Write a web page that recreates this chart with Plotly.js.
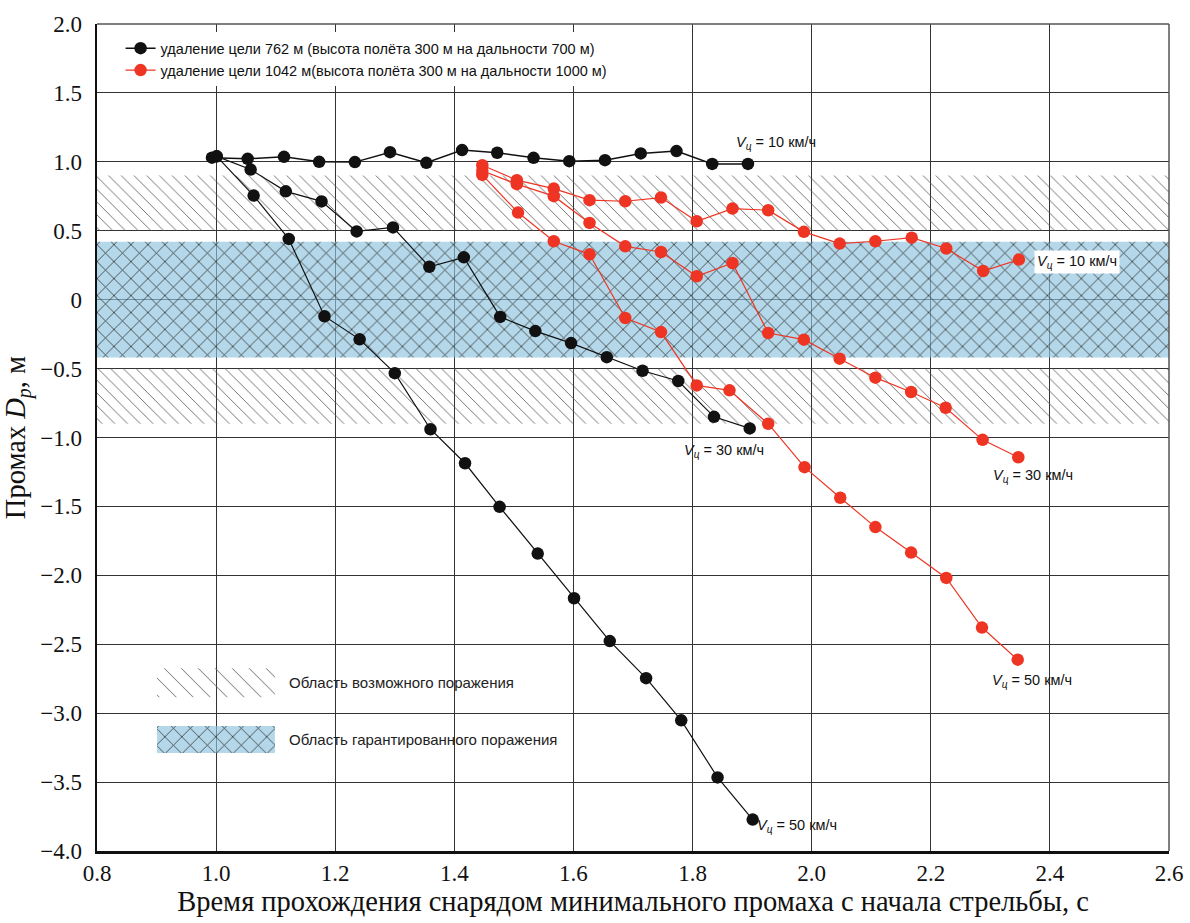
<!DOCTYPE html>
<html>
<head>
<meta charset="utf-8">
<script src="https://cdn.plot.ly/plotly-3.0.1.min.js"></script>
<style>html,body{margin:0;padding:0;background:#fff;}#chart{width:1190px;height:923px;}</style>
</head>
<body>
<div id="chart"></div>
<script>
// ---- data ----
const seriesNames = [
  'удаление цели 762 м (высота полёта 300 м на дальности 700 м)',
  'удаление цели 1042 м(высота полёта 300 м на дальности 1000 м)'
];
// black: target distance 762 m
const b10x = [0.993, 1.053, 1.114, 1.173, 1.233, 1.292, 1.353, 1.413, 1.472, 1.533, 1.593, 1.653, 1.713, 1.773, 1.833, 1.893];
const b10y = [1.03, 1.022, 1.036, 1.0, 0.998, 1.07, 0.993, 1.085, 1.066, 1.029, 1.005, 1.012, 1.061, 1.078, 0.985, 0.985];
const b30x = [1.001, 1.058, 1.117, 1.177, 1.236, 1.297, 1.358, 1.416, 1.477, 1.536, 1.596, 1.656, 1.716, 1.776, 1.836, 1.896];
const b30y = [1.04, 0.944, 0.786, 0.713, 0.495, 0.524, 0.239, 0.307, -0.125, -0.228, -0.315, -0.417, -0.516, -0.59, -0.85, -0.934];
const b50x = [1.001, 1.063, 1.122, 1.182, 1.241, 1.300, 1.360, 1.418, 1.476, 1.540, 1.601, 1.661, 1.722, 1.781, 1.842, 1.901];
const b50y = [1.04, 0.755, 0.441, -0.12, -0.288, -0.533, -0.94, -1.187, -1.503, -1.842, -2.166, -2.477, -2.746, -3.052, -3.466, -3.772];
// red: target distance 1042 m
const r10x = [1.447, 1.505, 1.567, 1.627, 1.687, 1.747, 1.807, 1.867, 1.927, 1.987, 2.047, 2.107, 2.168, 2.226, 2.288, 2.348];
const r10y = [0.975, 0.867, 0.806, 0.722, 0.714, 0.741, 0.569, 0.661, 0.649, 0.492, 0.407, 0.424, 0.450, 0.371, 0.208, 0.291];
const r30x = [1.447, 1.505, 1.567, 1.627, 1.687, 1.747, 1.807, 1.867, 1.927, 1.987, 2.047, 2.107, 2.167, 2.225, 2.287, 2.347];
const r30y = [0.935, 0.838, 0.751, 0.557, 0.387, 0.346, 0.170, 0.266, -0.242, -0.290, -0.428, -0.566, -0.670, -0.784, -1.017, -1.143];
const r50x = [1.447, 1.507, 1.567, 1.627, 1.687, 1.747, 1.807, 1.862, 1.927, 1.988, 2.048, 2.107, 2.167, 2.226, 2.286, 2.346];
const r50y = [0.905, 0.632, 0.424, 0.329, -0.133, -0.235, -0.622, -0.658, -0.900, -1.215, -1.437, -1.650, -1.835, -2.019, -2.379, -2.612];

// zones
const zoneNames = ['Область возможного поражения', 'Область гарантированного поражения'];
const possibleBands = [[0.5, 0.9], [-0.9, -0.5]];
const guaranteedBand = [-0.42, 0.42];
const zoneXRange = [0.8, 2.6];

// axes ticks
const xRange = [0.8, 2.6];
const xTickVals = [0.8, 1.0, 1.2, 1.4, 1.6, 1.8, 2.0, 2.2, 2.4, 2.6];
const xTickText = ['0.8', '1.0', '1.2', '1.4', '1.6', '1.8', '2.0', '2.2', '2.4', '2.6'];
const yTickVals = [2.0, 1.5, 1.0, 0.5, 0, -0.5, -1.0, -1.5, -2.0, -2.5, -3.0, -3.5, -4.0];
const yTickText = ['2.0', '1.5', '1.0', '0.5', '0', '\u22120.5', '\u22121.0', '\u22121.5', '\u22122.0', '\u22122.5', '\u22123.0', '\u22123.5', '\u22124.0'];

// speed labels
const speedLabels = [
  {x: 1.94, y: 1.135, v: 10, bg: false},
  {x: 2.445, y: 0.27, v: 10, bg: true},
  {x: 1.852, y: -1.10, v: 30, bg: false},
  {x: 2.372, y: -1.28, v: 30, bg: false},
  {x: 2.37, y: -2.77, v: 50, bg: false},
  {x: 1.975, y: -3.82, v: 50, bg: false}
];

// ---- styles ----
const BLACK = '#111111';
const RED = '#ee3524';
const SANS = 'Liberation Sans, Arial, sans-serif';
const SERIF = 'Liberation Serif, Times New Roman, serif';
const hatchPattern = {shape: '\\', size: 9, solidity: 0.09, fgcolor: '#555555', bgcolor: 'rgba(255,255,255,0)', fillmode: 'replace'};
const swatchHatch = {shape: '\\', size: 12, solidity: 0.08, fgcolor: '#666666', bgcolor: 'rgba(255,255,255,0)', fillmode: 'replace'};
const crossPattern = {shape: 'x', size: 12, solidity: 0.12, fgcolor: '#2a2a2a', bgcolor: 'rgba(140,196,222,0.65)', fillmode: 'replace'};

function rectTrace(x0, x1, y0, y1, pattern, xa, ya) {
  return {
    x: [x0, x1, x1, x0, x0], y: [y0, y0, y1, y1, y0],
    type: 'scatter', mode: 'lines', fill: 'toself',
    line: {width: 0, color: 'rgba(0,0,0,0)'},
    fillcolor: 'rgba(0,0,0,0)',
    fillpattern: pattern,
    hoverinfo: 'skip', showlegend: false,
    xaxis: xa || 'x', yaxis: ya || 'y'
  };
}

const traces = [];
possibleBands.forEach(b => traces.push(rectTrace(zoneXRange[0], zoneXRange[1], b[0], b[1], hatchPattern)));
traces.push(rectTrace(zoneXRange[0], zoneXRange[1], guaranteedBand[0], guaranteedBand[1], crossPattern));

// zone legend swatches (overlay axis in fraction-of-plot units)
traces.push(rectTrace(0.056, 0.166, 0.186, 0.221, swatchHatch, 'x2', 'y2'));
traces.push(rectTrace(0.056, 0.166, 0.1185, 0.151, crossPattern, 'x2', 'y2'));

function lineTrace(x, y, color, name, show, width) {
  return {
    x: x, y: y, type: 'scatter', mode: 'lines+markers',
    name: name, legendgroup: name, showlegend: show,
    line: {color: color, width: width},
    marker: {color: color, size: 12.5, line: {width: 0}}
  };
}
traces.push(lineTrace(b10x, b10y, BLACK, seriesNames[0], true, 1.5));
traces.push(lineTrace(b30x, b30y, BLACK, seriesNames[0], false, 1.2));
traces.push(lineTrace(b50x, b50y, BLACK, seriesNames[0], false, 1.2));
traces.push(lineTrace(r10x, r10y, RED, seriesNames[1], true, 1.2));
traces.push(lineTrace(r30x, r30y, RED, seriesNames[1], false, 1.2));
traces.push(lineTrace(r50x, r50y, RED, seriesNames[1], false, 1.2));

const annotations = speedLabels.map(s => ({
  x: s.x, y: s.y, xref: 'x', yref: 'y', showarrow: false,
  text: '<i>V</i><sub><i>ц</i></sub> = ' + s.v + ' км/ч',
  font: {family: SANS, size: 14.5, color: '#111'},
  bgcolor: s.bg ? '#ffffff' : 'rgba(0,0,0,0)', borderpad: 2
}));
annotations.push({x: 0.177, y: 0.2035, xref: 'paper', yref: 'paper', xanchor: 'left', yanchor: 'middle', showarrow: false,
  text: zoneNames[0], font: {family: SANS, size: 15, color: '#222'}});
annotations.push({x: 0.177, y: 0.135, xref: 'paper', yref: 'paper', xanchor: 'left', yanchor: 'middle', showarrow: false,
  text: zoneNames[1], font: {family: SANS, size: 15, color: '#222'}});

const layout = {
  width: 1190, height: 923,
  margin: {l: 97, r: 21, t: 24, b: 72},
  paper_bgcolor: '#ffffff', plot_bgcolor: '#ffffff',
  font: {family: SERIF, color: '#111', size: 22},
  showlegend: true,
  legend: {x: 0.022, y: 0.99, xanchor: 'left', yanchor: 'top', bgcolor: '#ffffff', borderwidth: 0,
    font: {family: SANS, size: 14.5, color: '#111'}, itemwidth: 30, tracegroupgap: 0},
  xaxis: {
    range: xRange, tickvals: xTickVals, ticktext: xTickText, automargin: false,
    showgrid: true, gridcolor: '#333333', gridwidth: 1, zeroline: false,
    showline: true, linecolor: '#111111', linewidth: 2.5, mirror: false,
    ticks: '', ticklabelstandoff: 0,
    tickfont: {family: SERIF, size: 23, color: '#111'},
    title: {text: 'Время прохождения снарядом минимального промаха с начала стрельбы, с', font: {family: SERIF, size: 28.5, color: '#111'}, standoff: 4}
  },
  yaxis: {
    range: [-4, 2], tickvals: yTickVals, ticktext: yTickText, automargin: false,
    showgrid: true, gridcolor: '#333333', gridwidth: 1, zeroline: false,
    showline: true, linecolor: '#111111', linewidth: 2.5, mirror: false,
    ticks: '', ticklabelstandoff: 8,
    tickfont: {family: SERIF, size: 23, color: '#111'},
    title: {text: 'Промах <i>D<sub>p</sub></i>, м', font: {family: SERIF, size: 28.5, color: '#111'}, standoff: 6}
  },
  xaxis2: {overlaying: 'x', range: [0, 1], visible: false, fixedrange: true},
  yaxis2: {overlaying: 'y', range: [0, 1], visible: false, fixedrange: true},
  shapes: [
    {type: 'line', xref: 'paper', yref: 'paper', x0: 0, x1: 1, y0: 1, y1: 1, line: {color: '#555555', width: 1.5}},
    {type: 'line', xref: 'paper', yref: 'paper', x0: 1, x1: 1, y0: 0, y1: 1, line: {color: '#555555', width: 1.5}}
  ],
  annotations: annotations
};

Plotly.newPlot('chart', traces, layout, {displayModeBar: false, staticPlot: true});
</script>
</body>
</html>
